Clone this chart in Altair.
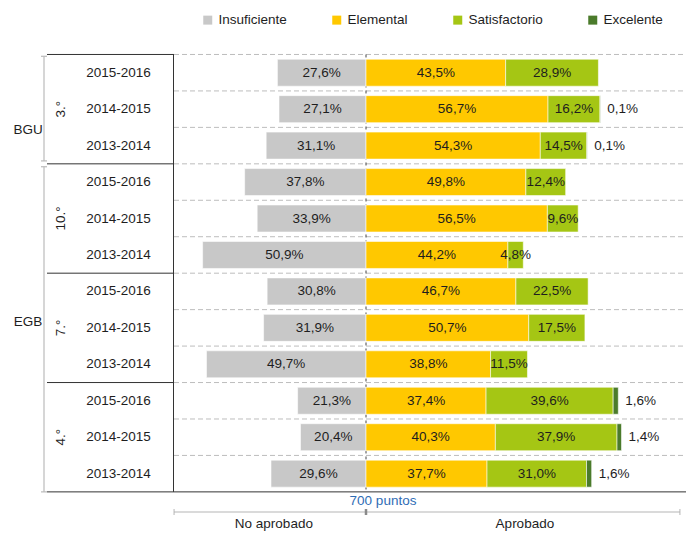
import altair as alt
import pandas as pd

# ---- data ----
levels = ["BGU", "EGB"]
grades = ["3.°", "10.°", "7.°", "4.°"]
years = ["2015-2016", "2014-2015", "2013-2014"] * 4
insuficiente = [27.6, 27.1, 31.1, 37.8, 33.9, 50.9, 30.8, 31.9, 49.7, 21.3, 20.4, 29.6]
elemental = [43.5, 56.7, 54.3, 49.8, 56.5, 44.2, 46.7, 50.7, 38.8, 37.4, 40.3, 37.7]
satisfactorio = [28.9, 16.2, 14.5, 12.4, 9.6, 4.8, 22.5, 17.5, 11.5, 39.6, 37.9, 31.0]
excelente = [0.0, 0.1, 0.1, 0.0, 0.0, 0.0, 0.0, 0.0, 0.0, 1.6, 1.4, 1.6]
categories = ["Insuficiente", "Elemental", "Satisfactorio", "Excelente"]
colors = ["#c8c8c8", "#ffc800", "#a5c614", "#4b7b2b"]
center_label = "700 puntos"
side_labels = ["No aprobado", "Aprobado"]

FONT = "Liberation Sans"
FS = 13.5
TXT = "#1e1e1e"


def pct(v):
    return f"{v:.1f}".replace(".", ",") + "%"


rows = []
for i in range(len(years)):
    e, s, x = elemental[i], satisfactorio[i], excelente[i]
    segs = [("Insuficiente", -insuficiente[i], 0.0, insuficiente[i]),
            ("Elemental", 0.0, e, e),
            ("Satisfactorio", e, e + s, s),
            ("Excelente", e + s, e + s + x, x)]
    for cat, a, b, v in segs:
        if v <= 0:
            continue
        rows.append(dict(row=i, cat=cat, x0=a, x1=b, mid=(a + b) / 2, label=pct(v),
                         y0=i - 0.37, y1=i + 0.37))
bars = pd.DataFrame(rows)
inner = bars[bars.cat != "Excelente"]
outer = bars[bars.cat == "Excelente"]

year_df = pd.DataFrame({"row": list(range(len(years))), "year": years})
grade_df = pd.DataFrame({"grade": grades, "yc": [1, 4, 7, 10]})
level_df = pd.DataFrame({"level": levels, "yc": [1.57, 6.85]})

W, H = 678, 523
xs = alt.Scale(domain=[-111.53, 99.69], nice=False, zero=False)
ys = alt.Scale(domain=[-1.775, 12.573], nice=False, zero=False, reverse=True)

n = len(years)
dash_df = pd.DataFrame({"b": [k - 0.5 for k in range(n)]})
solid_df = pd.DataFrame({"b": [-0.5, 2.5, 5.5, 8.5]})
bottom_df = pd.DataFrame({"b": [n - 0.5]})
span_df = pd.DataFrame({"a": [-0.5], "z": [n - 0.5], "x": [0.0]})
bracket_df = pd.DataFrame({"a": [-0.45, 2.58], "z": [2.42, n - 0.5]})

dashed = alt.Chart(dash_df).mark_rule(color="#bdbdbd", strokeDash=[5, 3], strokeWidth=1).encode(
    y=alt.Y("b:Q", scale=ys, axis=None), x=alt.value(166), x2=alt.value(W))
solid = alt.Chart(solid_df).mark_rule(color="#333333", strokeWidth=1).encode(
    y=alt.Y("b:Q", scale=ys, axis=None), x=alt.value(39), x2=alt.value(166))
bottom = alt.Chart(bottom_df).mark_rule(color="#333333", strokeWidth=1).encode(
    y=alt.Y("b:Q", scale=ys, axis=None), x=alt.value(39), x2=alt.value(W))
table_right = alt.Chart(span_df).mark_rule(color="#333333", strokeWidth=1).encode(
    y=alt.Y("a:Q", scale=ys, axis=None), y2="z:Q", x=alt.value(165.5))
center = alt.Chart(span_df).mark_rule(color="#444444", strokeDash=[3, 3], strokeWidth=1).encode(
    y=alt.Y("a:Q", scale=ys, axis=None), y2="z:Q", x=alt.X("x:Q", scale=xs, axis=None))
brackets = alt.Chart(bracket_df).mark_rule(color="#bbbbbb", strokeWidth=1.2).encode(
    y=alt.Y("a:Q", scale=ys, axis=None), y2="z:Q", x=alt.value(36))
bracket_ticks = alt.Chart(pd.DataFrame({"b": [-0.45, 2.42, 2.58, n - 0.5]})).mark_rule(
    color="#bbbbbb", strokeWidth=1.2).encode(
    y=alt.Y("b:Q", scale=ys, axis=None), x=alt.value(33), x2=alt.value(39))

rects = alt.Chart(bars).mark_rect(stroke="#ffffff", strokeWidth=0.8, strokeOpacity=0.7).encode(
    x=alt.X("x0:Q", scale=xs, axis=None), x2="x1:Q",
    y=alt.Y("y0:Q", scale=ys, axis=None), y2="y1:Q",
    color=alt.Color("cat:N", scale=alt.Scale(domain=categories, range=colors),
                    legend=alt.Legend(title=None, orient="none", legendX=193, legendY=5,
                                      direction="horizontal", symbolType="square",
                                      symbolSize=81, symbolStrokeWidth=0, labelFont=FONT,
                                      labelFontSize=FS, labelColor=TXT, labelOffset=4,
                                      columnPadding=43, padding=0)))

inner_txt = alt.Chart(inner).mark_text(font=FONT, fontSize=FS, color=TXT).encode(
    x=alt.X("mid:Q", scale=xs, axis=None), y=alt.Y("row:Q", scale=ys, axis=None), text="label:N")
outer_txt = alt.Chart(outer).mark_text(font=FONT, fontSize=FS, color=TXT, align="left", dx=7).encode(
    x=alt.X("x1:Q", scale=xs, axis=None), y=alt.Y("row:Q", scale=ys, axis=None), text="label:N")

year_txt = alt.Chart(year_df).mark_text(font=FONT, fontSize=FS, color=TXT).encode(
    x=alt.value(110.5), y=alt.Y("row:Q", scale=ys, axis=None), text="year:N")
grade_txt = alt.Chart(grade_df).mark_text(font=FONT, fontSize=FS, color=TXT, angle=270).encode(
    x=alt.value(53), y=alt.Y("yc:Q", scale=ys, axis=None), text="grade:N")
level_txt = alt.Chart(level_df).mark_text(font=FONT, fontSize=FS, color=TXT).encode(
    x=alt.value(20), y=alt.Y("yc:Q", scale=ys, axis=None), text="level:N")

puntos = alt.Chart(pd.DataFrame({"t": [center_label], "x": [0.0]})).mark_text(
    font=FONT, fontSize=FS, color="#2f6db5", dx=17).encode(
    x=alt.X("x:Q", scale=xs, axis=None), y=alt.value(493), text="t:N")
base_line = alt.Chart(pd.DataFrame({"k": [0]})).mark_rule(color="#b5b5b5", strokeWidth=1).encode(
    x=alt.value(166), x2=alt.value(672), y=alt.value(504))
base_ticks = alt.Chart(pd.DataFrame({"x": [-59.8, 97.8]})).mark_rule(color="#b5b5b5", strokeWidth=1).encode(
    x=alt.X("x:Q", scale=xs, axis=None), y=alt.value(501), y2=alt.value(507))
mid_tick = alt.Chart(pd.DataFrame({"x": [0.0]})).mark_rule(color="#8a8a8a", strokeWidth=2.5).encode(
    x=alt.X("x:Q", scale=xs, axis=None), y=alt.value(501), y2=alt.value(507))
sides = alt.Chart(pd.DataFrame({"t": side_labels, "x": [-28.7, 49.5]})).mark_text(
    font=FONT, fontSize=FS, color=TXT).encode(
    x=alt.X("x:Q", scale=xs, axis=None), y=alt.value(515.5), text="t:N")

chart = alt.layer(
    dashed, center, rects, solid, bottom, table_right, brackets, bracket_ticks,
    inner_txt, outer_txt, year_txt, grade_txt, level_txt,
    puntos, base_line, base_ticks, mid_tick, sides
).properties(width=W, height=H, padding=0, autosize="none").configure_view(stroke=None)

chart.save("out.html", embed_options={"renderer": "svg", "actions": False})
